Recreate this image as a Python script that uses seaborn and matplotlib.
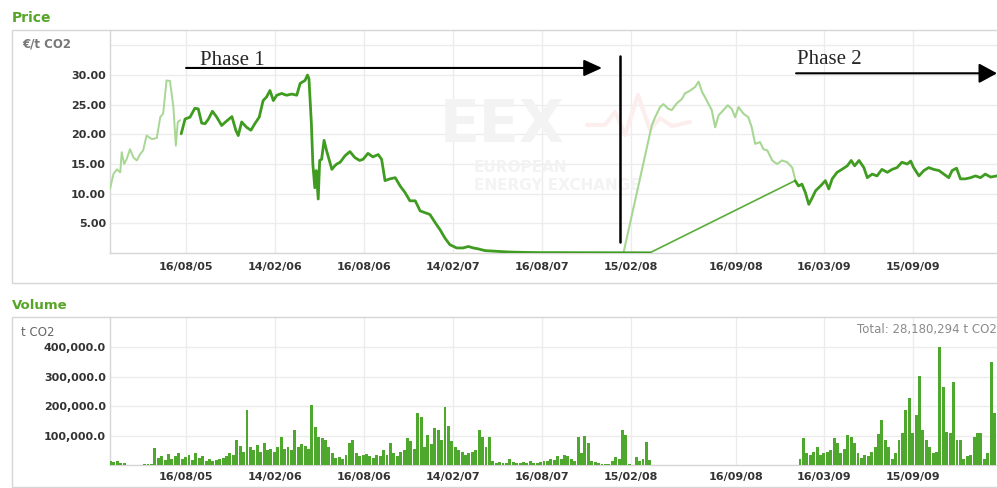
import pandas as pd
import matplotlib
matplotlib.use("Agg")
import matplotlib.pyplot as plt
from matplotlib.patches import Rectangle
from matplotlib.lines import Line2D
import seaborn as sns

# ---- price data (EUR / t CO2) ----
# early spot prices (light line, 2005)
spot_early_dates = ["2005-03-13", "2005-03-20", "2005-03-27", "2005-04-03", "2005-04-06",
                    "2005-04-11", "2005-04-16", "2005-04-23", "2005-04-30", "2005-05-07",
                    "2005-05-14", "2005-05-20", "2005-05-27", "2005-06-07", "2005-06-17",
                    "2005-06-24", "2005-06-30", "2005-07-07", "2005-07-14", "2005-07-21",
                    "2005-07-26", "2005-07-30", "2005-08-04"]
spot_early_price = [10.8, 13.3, 14.1, 13.6, 17.0, 15.0, 15.8, 17.5, 16.1, 15.6,
                    16.7, 17.3, 19.8, 19.2, 19.4, 22.9, 23.5, 29.1, 29.0, 24.6,
                    18.1, 22.1, 22.4]

# phase 1 spot (dark line)
phase1_dates = ["2005-08-06", "2005-08-14", "2005-08-24", "2005-09-03", "2005-09-10",
                "2005-09-17", "2005-09-24", "2005-10-01", "2005-10-09", "2005-10-18",
                "2005-10-28", "2005-11-05", "2005-11-18", "2005-11-26", "2005-12-01",
                "2005-12-08", "2005-12-18", "2005-12-27", "2006-01-04", "2006-01-13",
                "2006-01-21", "2006-01-28", "2006-02-04", "2006-02-11", "2006-02-18",
                "2006-02-28", "2006-03-10", "2006-03-21", "2006-03-31", "2006-04-07",
                "2006-04-17", "2006-04-22", "2006-04-25", "2006-04-30", "2006-05-03",
                "2006-05-07", "2006-05-10", "2006-05-14", "2006-05-17", "2006-05-21",
                "2006-05-26", "2006-05-31", "2006-06-11", "2006-06-17", "2006-06-21",
                "2006-06-28", "2006-07-08", "2006-07-18", "2006-07-28", "2006-08-07",
                "2006-08-14", "2006-08-24", "2006-09-03", "2006-09-14", "2006-09-21",
                "2006-09-28", "2006-10-08", "2006-10-19", "2006-10-29", "2006-11-08",
                "2006-11-18", "2006-11-29", "2006-12-09", "2006-12-19", "2006-12-29",
                "2007-01-09", "2007-01-19", "2007-01-29", "2007-02-08", "2007-02-22",
                "2007-03-07", "2007-03-18", "2007-03-28", "2007-04-07", "2007-04-21",
                "2007-05-12", "2007-06-08", "2007-07-12", "2007-08-15", "2007-09-11",
                "2007-11-02", "2008-01-02", "2008-03-24"]
phase1_price = [20.1, 22.6, 22.9, 24.4, 24.3, 21.9, 21.8, 22.6, 23.9, 22.9,
                21.5, 22.1, 23.0, 20.7, 19.8, 22.1, 21.2, 20.7, 21.8, 22.9,
                25.7, 26.3, 27.4, 25.7, 26.6, 26.9, 26.6, 26.8, 26.6, 28.6,
                29.1, 30.0, 29.4, 21.8, 15.0, 11.0, 13.9, 9.1, 15.6, 15.8,
                19.0, 17.3, 14.1, 14.7, 15.0, 15.3, 16.4, 17.1, 16.1, 15.6,
                15.8, 16.8, 16.2, 16.6, 15.8, 12.2, 12.5, 12.7, 11.3, 10.2,
                8.8, 8.8, 7.1, 6.8, 6.5, 5.1, 3.9, 2.5, 1.4, 0.85,
                0.85, 1.1, 0.85, 0.7, 0.4, 0.3, 0.17, 0.1, 0.06, 0.06,
                0.05, 0.04, 0.03]

# phase 2 futures (light line, 2008)
futures_dates = ["2008-01-30", "2008-03-28", "2008-04-04", "2008-04-14", "2008-04-21",
                 "2008-05-01", "2008-05-08", "2008-05-18", "2008-05-29", "2008-06-04",
                 "2008-06-15", "2008-06-25", "2008-07-02", "2008-07-09", "2008-07-15",
                 "2008-07-22", "2008-07-29", "2008-08-05", "2008-08-12", "2008-08-22",
                 "2008-08-31", "2008-09-08", "2008-09-15", "2008-09-22", "2008-10-02",
                 "2008-10-12", "2008-10-19", "2008-10-26", "2008-11-05", "2008-11-12",
                 "2008-11-20", "2008-11-30", "2008-12-10", "2008-12-20", "2008-12-31",
                 "2009-01-10", "2009-01-16"]
futures_price = [0.0, 21.5, 22.9, 24.6, 25.1, 24.3, 24.1, 25.2, 26.0, 26.9,
                 27.4, 28.0, 28.9, 27.2, 26.3, 25.2, 24.1, 21.2, 23.2, 24.1,
                 24.9, 24.3, 22.9, 24.6, 23.5, 22.9, 21.2, 18.4, 18.7, 17.5,
                 17.3, 15.6, 15.0, 15.6, 15.3, 14.4, 12.5]

# phase 2 spot (dark line)
phase2_dates = ["2009-01-16", "2009-01-23", "2009-01-30", "2009-02-06", "2009-02-13",
                "2009-02-20", "2009-02-27", "2009-03-09", "2009-03-19", "2009-03-26",
                "2009-04-02", "2009-04-12", "2009-04-22", "2009-05-03", "2009-05-11",
                "2009-05-18", "2009-05-27", "2009-06-06", "2009-06-13", "2009-06-23",
                "2009-07-03", "2009-07-13", "2009-07-24", "2009-08-03", "2009-08-13",
                "2009-08-23", "2009-09-03", "2009-09-10", "2009-09-16", "2009-09-27",
                "2009-10-07", "2009-10-17", "2009-10-27", "2009-11-07", "2009-11-17",
                "2009-11-27", "2009-12-04", "2009-12-13", "2009-12-21", "2009-12-31",
                "2010-01-11", "2010-01-21", "2010-01-31", "2010-02-10", "2010-02-21",
                "2010-03-06"]
phase2_price = [12.2, 11.3, 11.6, 10.2, 8.2, 9.3, 10.5, 11.3, 12.2, 10.8,
                12.5, 13.6, 14.1, 14.7, 15.6, 14.7, 15.6, 14.4, 12.7, 13.3,
                13.0, 14.1, 13.6, 14.1, 14.4, 15.3, 15.0, 15.5, 14.4, 13.0,
                13.9, 14.4, 14.1, 13.9, 13.3, 12.7, 13.9, 14.3, 12.5, 12.5,
                12.7, 13.0, 12.7, 13.3, 12.8, 13.0]

# ---- weekly volume (thousand t CO2) ----
vol1_start = "2005-03-14"
vol1_kt = [14, 10, 12, 6, 8, 0, 0, 0, 0, 0,
           3, 4, 2, 56, 25, 30, 18, 38, 22, 30,
           40, 20, 28, 35, 18, 40, 25, 30, 15, 20,
           12, 18, 22, 25, 30, 40, 35, 85, 64, 45,
           186, 60, 50, 68, 45, 73, 50, 55, 45, 60,
           96, 55, 62, 50, 119, 60, 70, 65, 55, 203,
           130, 96, 90, 85, 60, 40, 25, 28, 20, 35,
           73, 85, 40, 30, 35, 38, 30, 25, 35, 30,
           50, 35, 73, 40, 30, 45, 50, 90, 80, 55,
           177, 162, 60, 102, 70, 124, 119, 85, 198, 132,
           80, 60, 50, 45, 35, 40, 45, 50, 119, 94,
           60, 96, 12, 8, 10, 6, 8, 22, 10, 8,
           6, 10, 8, 12, 6, 8, 10, 15, 12, 20,
           18, 30, 20, 34, 30, 20, 15, 96, 40, 100,
           73, 15, 10, 6, 5, 4, 5, 15, 28, 20,
           119, 102, 5, 0, 28, 15, 20, 79, 17]
vol2_start = "2009-01-26"
vol2_kt = [20, 90, 40, 35, 45, 62, 35, 40, 45, 50,
           90, 73, 40, 55, 102, 96, 73, 40, 25, 35,
           30, 45, 60, 104, 153, 85, 60, 20, 40, 85,
           110, 186, 226, 107, 170, 302, 119, 85, 60, 40,
           45, 399, 266, 113, 110, 282, 85, 85, 20, 30,
           35, 96, 107, 107, 20, 40, 350, 175]
total_volume = 28180294

tick_dates = ["2005-08-16", "2006-02-14", "2006-08-16", "2007-02-14", "2007-08-16",
              "2008-02-15", "2008-09-16", "2009-03-16", "2009-09-15"]
price_ticks = [5, 10, 15, 20, 25, 30]
volume_ticks = [100000, 200000, 300000, 400000]

DARK = "#3f9c20"
LIGHT = "#a8d795"
GRID = "#ececec"
FRAME = "#d6d6d6"
WATERMARK = "#f3f3f3"

sns.set_style("white")
plt.rcParams["font.family"] = ["DejaVu Sans"]

W, H = 997, 488
fig = plt.figure(figsize=(W / 100, H / 100), dpi=100)


def fx(x):
    return x / W


def fy(y):
    return 1 - y / H


ax_p = fig.add_axes([fx(110), fy(253), fx(997) - fx(110), fy(30) - fy(253)])
ax_v = fig.add_axes([fx(110), fy(465), fx(997) - fx(110), fy(317) - fy(465)])

# panel frames
for top, bottom in [(30, 283), (317, 487)]:
    fig.add_artist(Rectangle((fx(12), fy(bottom)), 1.2, fy(top) - fy(bottom),
                             transform=fig.transFigure, fill=False, ec=FRAME, lw=1))

# ---- price panel ----
ph1 = pd.DataFrame({"date": pd.to_datetime(phase1_dates), "price": phase1_price})
ph2 = pd.DataFrame({"date": pd.to_datetime(phase2_dates), "price": phase2_price})
sns.lineplot(x=pd.to_datetime(spot_early_dates), y=spot_early_price, ax=ax_p,
             color=LIGHT, lw=1.4, zorder=3)
sns.lineplot(x=pd.to_datetime(futures_dates), y=futures_price, ax=ax_p,
             color=LIGHT, lw=1.5, zorder=3)
sns.lineplot(data=ph1, x="date", y="price", ax=ax_p, color=DARK, lw=2, zorder=4)
sns.lineplot(data=ph2, x="date", y="price", ax=ax_p, color=DARK, lw=2, zorder=4)
# gap in the spot series is bridged by a straight line
sns.lineplot(x=[ph1["date"].iloc[-1], ph2["date"].iloc[0]],
             y=[ph1["price"].iloc[-1], ph2["price"].iloc[0]],
             ax=ax_p, color="#5aac3a", lw=1.2, zorder=3)

# watermark
ax_p.text(fx(502), fy(126), "EEX", transform=fig.transFigure, ha="center", va="center",
          fontsize=42, fontweight="bold", color=WATERMARK, zorder=1)
ax_p.text(fx(474), fy(168), "EUROPEAN", transform=fig.transFigure, ha="left", va="center",
          fontsize=11, fontweight="bold", color=WATERMARK, zorder=1)
ax_p.text(fx(474), fy(186), "ENERGY EXCHANGE", transform=fig.transFigure, ha="left",
          va="center", fontsize=11, fontweight="bold", color=WATERMARK, zorder=1)
pulse_x = [587, 605, 615, 625, 638, 650, 660, 672, 690]
pulse_y = [125, 125, 112, 135, 95, 130, 118, 126, 122]
ax_p.add_line(Line2D([fx(v) for v in pulse_x], [fy(v) for v in pulse_y],
                     transform=fig.transFigure, color="#fdeeee", lw=3, zorder=1))

ax_p.set_xlim(pd.Timestamp("2005-03-13"), pd.Timestamp("2010-03-06"))
ax_p.set_ylim(0, 37.6)
ax_p.set_yticks(price_ticks, labels=[f"{v:.2f}" for v in price_ticks],
                fontweight="bold", fontsize=8, color="#333333")
ax_p.axhline(35, color=GRID, lw=1, zorder=0.5)

# phase annotations
ax_p.text(pd.Timestamp("2005-09-14"), 31.7, "Phase 1", family="Liberation Serif",
          fontsize=15, va="baseline", ha="left")
ax_p.annotate("", xy=(pd.Timestamp("2007-12-17"), 31.2),
              xytext=(pd.Timestamp("2005-08-16"), 31.2),
              arrowprops=dict(arrowstyle="-|>,head_length=0.55,head_width=0.25",
                              mutation_scale=20, lw=1.5, color="black",
                              shrinkA=0, shrinkB=0))
ax_p.plot([pd.Timestamp("2008-01-23")] * 2, [1.85, 33.2], color="black", lw=1.8, zorder=5)
ax_p.text(pd.Timestamp("2009-01-20"), 31.8, "Phase 2", family="Liberation Serif",
          fontsize=15, va="baseline", ha="left")
ax_p.annotate("", xy=(pd.Timestamp("2010-03-06"), 30.3),
              xytext=(pd.Timestamp("2009-01-18"), 30.3), annotation_clip=False,
              arrowprops=dict(arrowstyle="-|>,head_length=0.55,head_width=0.3",
                              mutation_scale=20, lw=1.5, color="black",
                              shrinkA=0, shrinkB=0))

# ---- volume panel ----
v1_dates = pd.date_range(vol1_start, periods=len(vol1_kt), freq="7D")
v2_dates = pd.date_range(vol2_start, periods=len(vol2_kt), freq="7D")
ax_v.bar(v1_dates, [v * 1000 for v in vol1_kt], width=6, color="#4fa82e", lw=0, zorder=3)
ax_v.bar(v2_dates, [v * 1000 for v in vol2_kt], width=6, color="#4fa82e", lw=0, zorder=3)
ax_v.set_xlim(pd.Timestamp("2005-03-13"), pd.Timestamp("2010-03-06"))
ax_v.set_ylim(0, 502000)
ax_v.set_yticks(volume_ticks, labels=[f"{v:,.1f}" for v in volume_ticks],
                fontweight="bold", fontsize=8, color="#333333")

for ax, pad in [(ax_p, 6.8), (ax_v, 4.7)]:
    ticks = pd.to_datetime(tick_dates)
    ax.set_xticks(ticks, labels=[d.strftime("%d/%m/%y") for d in ticks],
                  fontweight="bold", fontsize=8, color="#333333")
    ax.set_xlabel("")
    ax.set_ylabel("")
    ax.tick_params(axis="x", length=0, pad=pad)
    ax.tick_params(axis="y", length=0, pad=3)
    ax.grid(True, color=GRID, lw=1)
    ax.set_axisbelow(True)
    for s in ["top", "right"]:
        ax.spines[s].set_visible(False)
    for s in ["left", "bottom"]:
        ax.spines[s].set_color(FRAME)
        ax.spines[s].set_linewidth(1)

# titles and units
fig.text(fx(12), fy(18), "Price", color="#55a526", fontweight="bold", fontsize=10, va="center")
fig.text(fx(12), fy(305.5), "Volume", color="#55a526", fontweight="bold", fontsize=9.5,
         va="center")
fig.text(fx(22), fy(44), "€/t CO2", color="#777777", fontweight="bold", fontsize=8.5,
         va="center")
fig.text(fx(21), fy(332), "t CO2", color="#666666", fontsize=8.5, va="center")
fig.text(fx(997), fy(329), f"Total: {total_volume:,} t CO2", color="#8a8a8a",
         fontsize=8.5, va="center", ha="right")

fig.savefig("out.png", dpi=100)
